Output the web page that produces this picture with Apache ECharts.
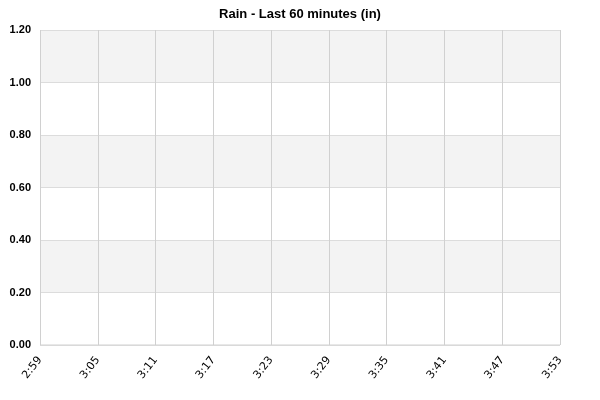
<!DOCTYPE html>
<html>
<head>
<meta charset="utf-8">
<script src="https://cdn.jsdelivr.net/npm/echarts@6/dist/echarts.min.js"></script>
<style>html,body{margin:0;padding:0;background:#fff}#c{width:600px;height:400px}</style>
</head>
<body>
<div id="c"></div>
<script>
var titleText = 'Rain - Last 60 minutes (in)';
var tickLabels = ['2:59','3:05','3:11','3:17','3:23','3:29','3:35','3:41','3:47','3:53'];
var minutes = [0, 6, 12, 18, 24, 30, 36, 42, 48, 54];
var rainValues = [0, 0, 0, 0, 0, 0, 0, 0, 0, 0];
var yTicks = [0, 0.2, 0.4, 0.6, 0.8, 1.0, 1.2];

var chart = echarts.init(document.getElementById('c'), null, {renderer: 'canvas'});
chart.setOption({
  animation: false,
  title: {
    text: titleText, left: 'center', top: 3,
    textStyle: {fontFamily: 'Liberation Sans', fontSize: 13, fontWeight: 'bold', color: '#000'}
  },
  grid: {left: 40, right: 40, top: 30, bottom: 55, containLabel: false},
  xAxis: {
    type: 'value', min: 0, max: 54, interval: 6,
    axisLine: {show: false},
    axisTick: {show: false},
    splitLine: {show: true, lineStyle: {color: '#d0d0d0', width: 1}},
    axisLabel: {
      rotate: 52, margin: 13, color: '#000',
      fontFamily: 'DejaVu Sans', fontSize: 11,
      formatter: function (v) { var i = minutes.indexOf(v); return i >= 0 ? tickLabels[i] : ''; }
    }
  },
  yAxis: {
    type: 'value', min: yTicks[0], max: yTicks[yTicks.length - 1], interval: 0.2,
    axisLine: {show: false},
    axisTick: {show: false},
    splitLine: {show: true, lineStyle: {color: '#dcdcdc', width: 1}},
    splitArea: {show: true, areaStyle: {color: ['#ffffff', '#f3f3f3']}},
    axisLabel: {
      margin: 9, color: '#000', fontFamily: 'Liberation Sans', fontSize: 11, fontWeight: 'bold',
      formatter: function (v) { return v.toFixed(2); }
    }
  },
  series: [{
    type: 'line', showSymbol: false,
    data: minutes.map(function (m, i) { return [m, rainValues[i]]; }),
    lineStyle: {color: '#d0d0d0', width: 1}
  }]
});
</script>
</body>
</html>
